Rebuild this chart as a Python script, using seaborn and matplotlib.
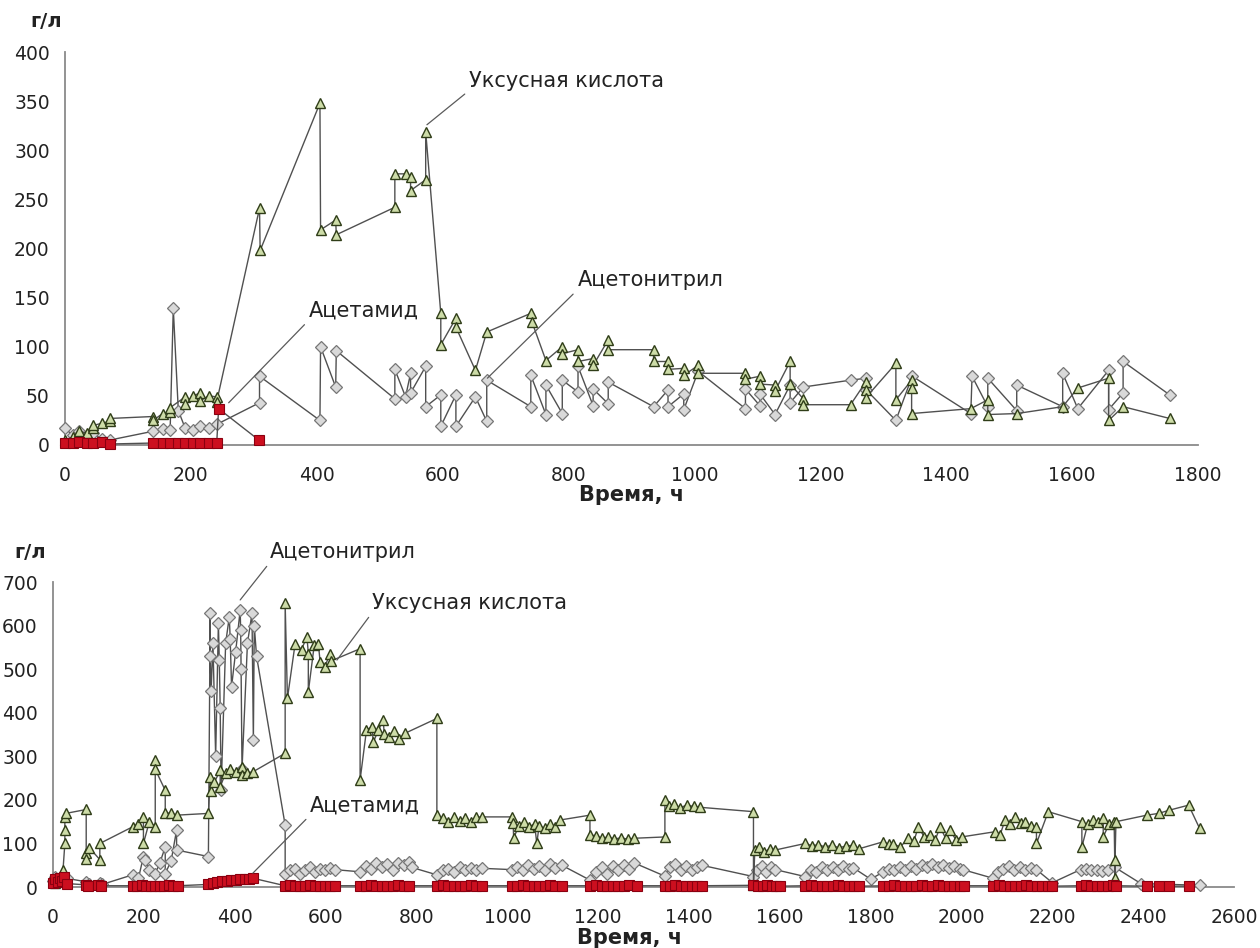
import matplotlib
matplotlib.use("Agg")
import matplotlib.pyplot as plt
import pandas as pd
import seaborn as sns

# ---------------- upper run (0-1800 h) ----------------
t1_acid = [0, 12, 23, 23, 35, 45, 45, 58, 71, 71,
           140, 140, 155, 167, 167, 191, 191, 203, 215, 215,
           228, 241, 241, 309, 310, 405, 406, 430, 431, 524,
           524, 541, 549, 549, 573, 573, 597, 597, 621, 621,
           652, 670, 740, 742, 764, 790, 790, 815, 815, 839,
           839, 863, 863, 935, 935, 958, 958, 983, 983, 1006,
           1006, 1081, 1081, 1104, 1104, 1128, 1128, 1152, 1152, 1173,
           1173, 1248, 1272, 1272, 1272, 1320, 1320, 1345, 1345, 1345,
           1439, 1466, 1466, 1512, 1585, 1609, 1658, 1658, 1681, 1755]
c1_acid = [5, 8, 10, 14, 12, 17, 20, 22, 24, 27,
           29, 25, 32, 34, 38, 49, 42, 50, 53, 45,
           50, 49, 44, 241, 198, 348, 219, 229, 214, 242,
           276, 276, 273, 259, 270, 319, 134, 102, 129, 120,
           76, 115, 134, 125, 86, 100, 93, 97, 85, 88,
           81, 107, 97, 97, 85, 85, 77, 78, 71, 81,
           73, 73, 67, 70, 62, 61, 55, 85, 62, 47,
           41, 41, 64, 56, 48, 83, 46, 66, 58, 32,
           37, 46, 31, 32, 39, 58, 68, 25, 39, 27]

t1_acn = [0, 12, 23, 35, 45, 58, 71, 140, 155, 167,
          172, 180, 191, 203, 215, 228, 241, 309, 309, 405,
          406, 430, 431, 524, 524, 541, 549, 549, 573, 573,
          597, 597, 621, 621, 652, 670, 670, 740, 740, 764,
          764, 790, 790, 815, 815, 839, 839, 863, 863, 935,
          958, 958, 983, 983, 1006, 1081, 1081, 1104, 1104, 1128,
          1152, 1152, 1173, 1248, 1273, 1273, 1320, 1346, 1439, 1441,
          1466, 1466, 1512, 1512, 1585, 1585, 1609, 1658, 1658, 1681,
          1681, 1755]
c1_acn = [17, 10, 14, 8, 12, 6, 5, 14, 16, 15,
          139, 35, 17, 15, 19, 17, 21, 43, 70, 25,
          100, 59, 96, 47, 77, 49, 73, 53, 80, 39,
          51, 19, 51, 19, 49, 24, 66, 39, 71, 31,
          61, 32, 66, 54, 80, 40, 57, 42, 64, 39,
          56, 39, 52, 36, 75, 37, 57, 40, 52, 31,
          61, 43, 59, 66, 68, 56, 25, 70, 32, 70,
          39, 68, 35, 61, 39, 73, 37, 76, 36, 53,
          85, 51]

t1_amd = [0, 12, 23, 35, 45, 58, 71, 140, 155, 167, 180, 191, 203, 215, 228, 241, 244, 308]
c1_amd = [2, 2, 3, 2, 2, 3, 1, 2, 2, 2, 2, 2, 2, 2, 2, 2, 37, 5]

# ---------------- lower run (0-2600 h) ----------------
t2_acid = [5, 15, 22, 26, 26, 26, 28, 73, 73, 73, 80, 103, 103,
           175, 188, 199, 199, 212, 225, 225, 225, 247, 247, 260, 272,
           342, 346, 348, 355, 368, 368, 380, 390, 402, 415, 415, 428, 441,
           511, 511, 516, 533, 547, 559, 562, 562, 575, 584, 588, 598, 610, 612,
           676, 676, 690, 702, 705, 716, 727, 729, 740, 750, 762, 775,
           845, 845, 858, 870, 882, 895, 908, 920, 932, 944,
           1010, 1013, 1014, 1025, 1036, 1048, 1060, 1065, 1070, 1082, 1094, 1105, 1117,
           1182, 1182, 1195, 1208, 1222, 1235, 1250, 1265, 1280,
           1347, 1347, 1355, 1368, 1380, 1395, 1410, 1425,
           1542, 1542, 1545, 1555, 1565, 1578, 1590,
           1656, 1670, 1685, 1700, 1715, 1730, 1745, 1762, 1775,
           1828, 1840, 1850, 1865, 1883, 1895, 1905, 1918, 1930, 1942, 1953, 1965, 1975, 1988, 2000,
           2074, 2085, 2096, 2107, 2118, 2130, 2140, 2152, 2165, 2165, 2191,
           2265, 2265, 2278, 2290, 2300, 2312, 2312, 2325, 2336, 2338, 2338, 2340,
           2408, 2434, 2456, 2500, 2524]
c2_acid = [10, 20, 40, 100, 130, 160, 169, 178, 77, 65, 90, 63, 100,
           138, 145, 161, 100, 150, 138, 291, 270, 222, 169, 170, 165,
           169, 253, 220, 240, 268, 230, 262, 272, 265, 276, 258, 262, 265,
           307, 651, 433, 559, 545, 575, 535, 448, 555, 559, 517, 505, 536, 519,
           547, 246, 360, 368, 332, 360, 383, 352, 345, 358, 340, 353,
           387, 165, 158, 150, 160, 152, 158, 150, 160, 161,
           161, 147, 112, 140, 150, 138, 145, 100, 140, 135, 145, 138, 154,
           165, 119, 118, 112, 115, 110, 113, 110, 112,
           115, 200, 185, 190, 182, 188, 185, 183,
           173, 5, 85, 92, 80, 88, 85,
           100, 95, 97, 92, 96, 90, 94, 96, 88,
           104, 98, 99, 92, 112, 105, 138, 115, 120, 108, 138, 112, 130, 108, 115,
           127, 120, 154, 145, 161, 148, 150, 140, 138, 100, 173,
           150, 92, 145, 154, 150, 158, 115, 145, 150, 20, 62, 150,
           165, 169, 176, 188, 135]

t2_acn = [0, 5, 12, 20, 26, 30, 73, 80, 103, 108,
          175, 188, 199, 203, 212, 225, 235, 247, 247, 260, 272, 272,
          342, 346, 346, 348, 352, 358, 364, 366, 368, 370, 380, 388, 390, 393,
          402, 412, 413, 414, 416, 428, 438, 441, 443, 448,
          511, 511, 522, 533, 544, 555, 566, 577, 588, 599, 610, 620,
          676, 688, 700, 712, 724, 736, 748, 760, 772, 784, 790,
          845, 858, 870, 882, 895, 908, 920, 932, 944,
          1010, 1022, 1034, 1046, 1058, 1070, 1082, 1094, 1106, 1120,
          1182, 1195, 1208, 1220, 1232, 1244, 1256, 1268, 1278,
          1347, 1358, 1370, 1382, 1394, 1406, 1418, 1428,
          1542, 1550, 1560, 1570, 1580, 1590,
          1656, 1668, 1680, 1692, 1704, 1716, 1728, 1740, 1752, 1762, 1800,
          1828, 1840, 1852, 1864, 1876, 1888, 1900, 1912, 1924, 1936, 1948, 1960, 1972, 1984, 1996, 2003,
          2070, 2080, 2092, 2104, 2116, 2128, 2140, 2152, 2165, 2200,
          2262, 2274, 2286, 2298, 2310, 2322, 2338, 2395, 2525]
c2_acn = [15, 22, 18, 25, 12, 20, 12, 8, 10, 6,
          28, 20, 70, 62, 40, 31, 55, 92, 31, 60, 131, 85,
          70, 628, 530, 450, 560, 300, 605, 520, 410, 222, 560, 620, 570, 460,
          540, 636, 590, 500, 270, 560, 628, 337, 600, 530,
          142, 31, 38, 42, 30, 40, 45, 35, 42, 38, 44, 40,
          35, 48, 42, 55, 45, 52, 40, 55, 50, 58, 45,
          28, 38, 42, 35, 45, 40, 44, 38, 43,
          40, 45, 38, 50, 42, 48, 40, 52, 44, 50,
          16, 35, 45, 30, 48, 40, 50, 42, 56,
          25, 45, 52, 38, 48, 40, 46, 50,
          24, 40, 48, 35, 45, 40,
          24, 40, 35, 46, 38, 45, 40, 48, 42, 44, 18,
          35, 42, 38, 45, 40, 48, 42, 50, 45, 52, 46, 50, 44, 48, 42, 40,
          20, 35, 42, 48, 40, 45, 38, 44, 40, 10,
          40, 42, 38, 40, 36, 40, 45, 8, 4]

t2_amd = [0, 5, 10, 15, 20, 25, 30, 73, 78, 100, 106,
          175, 185, 195, 205, 215, 225, 235, 245, 255, 265, 275,
          342, 352, 362, 372, 382, 392, 402, 412, 422, 432, 441,
          511, 522, 533, 544, 555, 566, 577, 588, 599, 610, 620,
          676, 688, 700, 712, 724, 736, 748, 760, 772, 784,
          845, 858, 870, 882, 895, 908, 920, 932, 944,
          1010, 1022, 1034, 1046, 1058, 1070, 1082, 1094, 1106, 1120,
          1182, 1195, 1208, 1220, 1232, 1244, 1256, 1268, 1285,
          1347, 1358, 1370, 1382, 1394, 1406, 1418, 1428,
          1542, 1552, 1562, 1572, 1582, 1592, 1600,
          1656, 1668, 1680, 1692, 1704, 1716, 1728, 1740, 1752, 1764, 1775,
          1828, 1840, 1852, 1864, 1876, 1888, 1900, 1912, 1924, 1936, 1948, 1960, 1972, 1984, 1996, 2005,
          2070, 2082, 2094, 2106, 2118, 2130, 2142, 2154, 2166, 2178, 2190, 2200,
          2262, 2274, 2286, 2298, 2310, 2322, 2334, 2340,
          2408, 2434, 2456, 2500]
c2_amd = [10, 18, 12, 20, 15, 22, 8, 5, 3, 4, 3,
          3, 3, 4, 3, 3, 2, 3, 3, 4, 3, 3,
          6, 10, 12, 14, 15, 16, 17, 18, 18, 19, 20,
          3, 4, 3, 2, 3, 4, 3, 3, 2, 3, 3,
          3, 3, 4, 3, 2, 3, 3, 4, 3, 3,
          3, 4, 3, 3, 2, 3, 4, 3, 3,
          3, 3, 4, 3, 3, 2, 3, 4, 3, 3,
          3, 4, 3, 3, 3, 2, 3, 4, 3,
          3, 3, 4, 3, 3, 2, 3, 3,
          4, 3, 3, 4, 3, 3, 2,
          3, 4, 3, 3, 2, 3, 4, 3, 3, 3, 2,
          3, 3, 4, 3, 3, 2, 3, 4, 3, 3, 4, 3, 3, 2, 3, 3,
          3, 4, 3, 3, 2, 3, 4, 3, 3, 3, 2, 2,
          3, 4, 3, 3, 2, 3, 4, 3,
          2, 2, 2, 2]

ACID = "Уксусная кислота"
ACN = "Ацетонитрил"
AMD = "Ацетамид"

LINE = "#505050"
AXIS = "#8a8a8a"
TEXT = "#222222"
marker_style = {
    ACN: dict(marker="D", markersize=5.8, markerfacecolor="#d9d9d9",
              markeredgecolor="#767676", markeredgewidth=0.9),
    ACID: dict(marker="^", markersize=7.5, markerfacecolor="#cddca8",
               markeredgecolor="#2f3d18", markeredgewidth=1.0),
    AMD: dict(marker="s", markersize=6.5, markerfacecolor="#cc0f1f",
              markeredgecolor="#8a0010", markeredgewidth=0.8),
}

sns.set_style("white")
plt.rcParams["font.family"] = ["DejaVu Sans"]

fig = plt.figure(figsize=(12.6, 9.48), dpi=100)
ax1 = fig.add_axes([0.0516, 0.5306, 0.8992, 0.4145])
ax2 = fig.add_axes([0.0421, 0.0643, 0.9373, 0.3217])


def draw_series(ax, t, c, name):
    df = pd.DataFrame({"t": t, "c": c})
    sns.lineplot(data=df, x="t", y="c", ax=ax, sort=False, estimator=None,
                 color=LINE, linewidth=1.0, clip_on=False, zorder=3,
                 **marker_style[name])


def style_axes(ax, xmax, ymax, ystep):
    ax.set_xlim(0, xmax)
    ax.set_ylim(0, ymax)
    ax.set_xticks(range(0, xmax + 1, 200))
    ax.set_yticks(range(0, ymax + 1, ystep))
    ax.set_xlabel("")
    ax.set_ylabel("")
    for side in ("top", "right"):
        ax.spines[side].set_visible(False)
    for side in ("left", "bottom"):
        ax.spines[side].set_color(AXIS)
        ax.spines[side].set_linewidth(1.3)
    ax.tick_params(axis="both", direction="in", length=6, width=1.2,
                   color=AXIS, labelsize=13.5, labelcolor=TEXT)
    ax.tick_params(axis="x", pad=15)
    ax.tick_params(axis="y", pad=11)


leader = dict(arrowstyle="-", color="#5a5a5a", lw=0.9, shrinkA=1, shrinkB=0,
              relpos=(0, 0))

# upper panel
draw_series(ax1, t1_acn, c1_acn, ACN)
draw_series(ax1, t1_acid, c1_acid, ACID)
draw_series(ax1, t1_amd, c1_amd, AMD)
style_axes(ax1, 1800, 400, 50)
ax1.annotate(ACID, xy=(575, 326), xytext=(642, 371), ha="left", va="center",
             fontsize=15, color=TEXT, arrowprops=leader)
ax1.annotate(ACN, xy=(671, 68), xytext=(814, 168), ha="left", va="center",
             fontsize=15, color=TEXT, arrowprops=leader)
ax1.annotate(AMD, xy=(260, 43), xytext=(387, 137), ha="left", va="center",
             fontsize=15, color=TEXT, arrowprops=leader)

# lower panel
draw_series(ax2, t2_acn, c2_acn, ACN)
draw_series(ax2, t2_acid, c2_acid, ACID)
draw_series(ax2, t2_amd, c2_amd, AMD)
style_axes(ax2, 2600, 700, 100)
ax2.annotate(ACN, xy=(412, 659), xytext=(478, 769), ha="left", va="center",
             fontsize=15, color=TEXT, arrowprops=leader, annotation_clip=False)
ax2.annotate(ACID, xy=(625, 521), xytext=(702, 652), ha="left", va="center",
             fontsize=15, color=TEXT, arrowprops=leader)
ax2.annotate(AMD, xy=(440, 32), xytext=(566, 188), ha="left", va="center",
             fontsize=15, color=TEXT, arrowprops=leader)

# units and axis captions
fig.text(0.0365, 0.9768, "г/л", ha="center", va="center", fontsize=14,
         fontweight="bold", color=TEXT)
fig.text(0.0240, 0.4177, "г/л", ha="center", va="center", fontsize=14,
         fontweight="bold", color=TEXT)
fig.text(0.5016, 0.4775, "Время, ч", ha="center", va="center", fontsize=15,
         fontweight="bold", color=TEXT)
fig.text(0.5000, 0.0105, "Время, ч", ha="center", va="center", fontsize=15,
         fontweight="bold", color=TEXT)

fig.savefig("out.png", dpi=100, facecolor="white")
